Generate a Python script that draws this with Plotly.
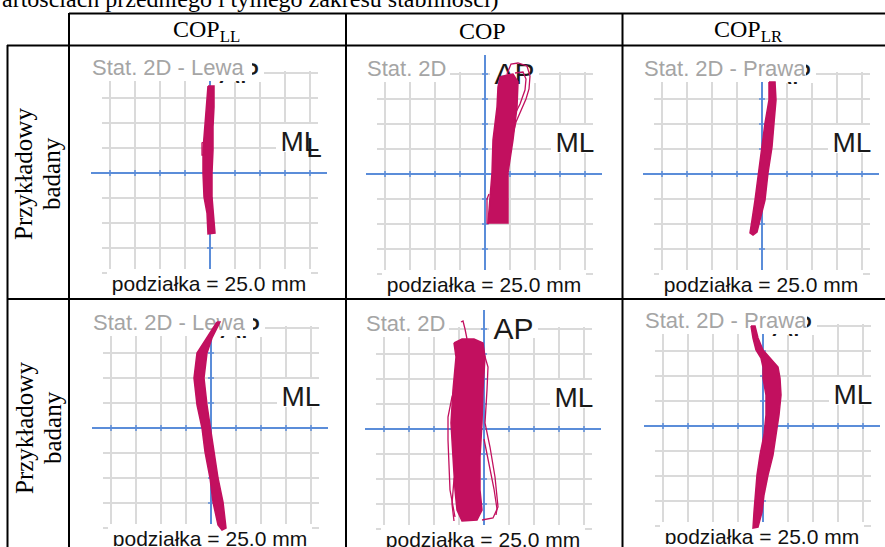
import plotly.graph_objects as go

W, H = 885, 547

# ---------------- text content ----------------
caption_text = "artościach przedniego i tylnego zakresu stabilności)"
col_headers = ["COP<sub>LL</sub>", "COP", "COP<sub>LR</sub>"]
row_label_top = "Przykładowy"
row_label_bottom = "badany"
panel_titles = ["Stat. 2D - Lewa", "Stat. 2D", "Stat. 2D - Prawa",
                "Stat. 2D - Lewa", "Stat. 2D", "Stat. 2D - Prawa"]
label_ap = "AP"
label_ml = "ML"
scale_text = "podziałka = 25.0 mm"

# grid division = 25 mm
grid_ticks = [-100, -75, -50, -25, 0, 25, 50, 75, 100]

# ---------------- digitised COP paths (mm) ----------------
# row 1, COP_LL
ll1_x = [-2, 4, 4, 3, 3, 2, 2, 3, 5, -2, -3, -6, -7, -7, -5, -4, -2]
ll1_y = [87, 87, 66, 46, 23, 0, -24, -40, -60, -61, -40, -24, 0, 23, 46, 66, 87]
ll1_loop_x = [-7, -5, -5, -8, -8, -6]
ll1_loop_y = [31, 31, 18, 18, 30, 31]

# row 1, COP
cop1_x = [3, 5, 7, 8, 12, 13, 15, 22, 28, 33, 32, 28, 23, 23, 23, 3]
cop1_y = [-49, -26, 1, 34, 67, 87, 97, 99, 100, 92, 67, 34, 1, -26, -49, -49]
cop1_loop_x = [22, 26, 33, 42, 45, 44, 41, 36, 31, 28]
cop1_loop_y = [100, 110, 111, 108, 98, 85, 75, 63, 52, 40]
cop1_loop2_x = [30, 38, 41, 40, 35, 30]
cop1_loop2_y = [101, 102, 95, 84, 70, 60]
cop1_tail_x = [4, 2, 2, 4]
cop1_tail_y = [-20, -25, -49, -50]

# row 1, COP_LR
lr1_x = [7, 7, 3, 0, -4, -7, -10, -12, -9, -5, -2, 3, 6, 10, 12, 14, 13, 7]
lr1_y = [92, 74, 51, 27, 1, -26, -46, -59, -61, -58, -46, -26, 1, 27, 51, 74, 92, 92]

# row 2, COP_LL
ll2_x = [6, -4, -14, -17, -14, -9, -6, -1, 2, 7, 11, 15, 12, 7, 3, -1, -4, -7, -4, 1, 9, 6]
ll2_y = [106, 90, 75, 50, 23, 0, -24, -50, -74, -97, -102, -100, -74, -50, -24, 0, 23, 50, 75, 90, 106, 106]

# row 2, COP
cop2_x = [-30, -22, -10, -1, 1, -1, -2, -4, -4, -2, -7, -22, -27, -29, -31, -33, -31, -28, -30]
cop2_y = [86, 90, 90, 86, 72, 39, 6, -28, -61, -81, -91, -92, -81, -61, -28, 6, 39, 72, 86]
cop2_right_x = [-1, 4, 3, 1, 6, 11, 14, 9, -2]
cop2_right_y = [79, 62, 39, 6, -18, -48, -78, -89, -91]
cop2_right2_x = [0, 5, 10, 13, 12]
cop2_right2_y = [-10, -35, -60, -80, -86]
cop2_left_x = [-29, -34, -36, -36, -32, -27]
cop2_left_y = [-88, -61, -11, 12, 32, 46]
cop2_left2_x = [-30, -32, -30, -26]
cop2_left2_y = [-92, -75, -50, -40]
cop2_spur_x = [-23, -21, -19, -17]
cop2_spur_y = [107, 108, 100, 90]

# row 2, COP_LR
lr2_x = [-12, -10, -7, -2, 0, 0, 3, 3, 1, -3, -6, -8, -9, -10, -5, -1, 1, 5, 10, 13, 16, 18, 17, 15, 7, 0, -5, -8, -12]
lr2_y = [100, 88, 76, 68, 59, 48, 31, 11, -9, -29, -49, -69, -86, -102, -101, -86, -69, -49, -29, -9, 11, 31, 48, 59, 68, 76, 88, 100, 100]

panel_fills = [
    [(ll1_x, ll1_y)],
    [(cop1_x, cop1_y)],
    [(lr1_x, lr1_y)],
    [(ll2_x, ll2_y)],
    [(cop2_x, cop2_y)],
    [(lr2_x, lr2_y)],
]
panel_lines = [
    [(ll1_loop_x, ll1_loop_y)],
    [(cop1_loop_x, cop1_loop_y), (cop1_loop2_x, cop1_loop2_y), (cop1_tail_x, cop1_tail_y)],
    [],
    [],
    [(cop2_right_x, cop2_right_y), (cop2_right2_x, cop2_right2_y),
     (cop2_left_x, cop2_left_y), (cop2_left2_x, cop2_left2_y), (cop2_spur_x, cop2_spur_y)],
    [],
]

# ---------------- styling / layout ----------------
MAG = "#c2105f"
BLUE = "#5b8dd9"
GRID = "#dadada"
TITLE_GRAY = "#a5a5a5"
SANS = "Liberation Sans, Arial, sans-serif"
SERIF = "Liberation Serif, Times New Roman, serif"

centers = [(210, 173), (485, 174), (762, 174), (211, 428), (484, 429), (763, 426)]
HW = 122
y_ranges = [(-124, 124)] * 3 + [(-118, 124)] * 3
title_right = [42, -35, 44, 42, -35, 44]

fig = go.Figure()
layout_axes = {}
shapes = []

for i, (cx, cy) in enumerate(centers):
    n = i + 1
    xa = "xaxis" if n == 1 else f"xaxis{n}"
    ya = "yaxis" if n == 1 else f"yaxis{n}"
    xr = "x" if n == 1 else f"x{n}"
    yr = "y" if n == 1 else f"y{n}"
    y0, y1 = y_ranges[i]
    layout_axes[xa] = dict(domain=[(cx - HW) / W, (cx + HW) / W], range=[-HW, HW],
                           visible=False, fixedrange=True, anchor=yr)
    layout_axes[ya] = dict(domain=[1 - (cy - y0) / H, 1 - (cy - y1) / H], range=[y0, y1],
                           visible=False, fixedrange=True, anchor=xr)

    def seg(xa0, ya0, xa1, ya1, color, width):
        shapes.append(dict(type="line", xref=xr, yref=yr, x0=xa0, y0=ya0, x1=xa1, y1=ya1,
                           line=dict(color=color, width=width), layer="below"))

    # grey grid
    for t in grid_ticks:
        seg(t, -102, t, 102, GRID, 2)
    for t in grid_ticks:
        seg(-108, t, 108, t, GRID, 2)
    # blue axes with tick marks
    seg(-119, 0, 117, 0, BLUE, 2)
    seg(0, -100, 0, 119, BLUE, 2)
    for t in grid_ticks:
        if t != 0:
            seg(t, -3, t, 3, BLUE, 1.5)
            seg(-3, t, 3, t, BLUE, 1.5)

    def box(bx0, by0, bx1, by1, text, font, pos="middle center", fill="white"):
        shapes.append(dict(type="rect", xref=xr, yref=yr, x0=bx0, y0=by0, x1=bx1, y1=by1,
                           fillcolor=fill, line=dict(width=0), layer="below",
                           label=dict(text=text, font=font, textposition=pos, padding=0)))

    # AP label (under the title box in the side panels)
    box(5, 91, 54, 117, label_ap, dict(family=SANS, size=30, color="#1a1a1a"))
    # title box
    box(-121, 92, title_right[i], 124, panel_titles[i],
        dict(family=SANS, size=22, color=TITLE_GRAY), pos="middle left")
    # ML label
    box(66, 21, 114, 49, label_ml, dict(family=SANS, size=28, color="#1a1a1a"))
    if i == 0:
        box(88, 14, 120, 44, "L", dict(family=SANS, size=28, color="#1a1a1a"), fill="rgba(0,0,0,0)")
    # scale caption
    box(-103, -120, 101, -96, scale_text, dict(family=SANS, size=21, color="#111111"))

    for (px, py) in panel_fills[i]:
        fig.add_trace(go.Scatter(x=px, y=py, mode="lines", fill="toself", fillcolor=MAG,
                                 line=dict(color=MAG, width=1.5), xaxis=xr, yaxis=yr,
                                 hoverinfo="skip", showlegend=False))
    for (px, py) in panel_lines[i]:
        fig.add_trace(go.Scatter(x=px, y=py, mode="lines",
                                 line=dict(color=MAG, width=1.3), xaxis=xr, yaxis=yr,
                                 hoverinfo="skip", showlegend=False))

# table rules (page pixels -> paper)
table_lines = [(69, 13.5, 885, 13.5), (7, 45.5, 885, 45.5), (7, 299, 885, 299),
               (7.5, 45, 7.5, 547), (69, 13, 69, 547), (346, 13, 346, 547), (622.5, 13, 622.5, 547)]
for (a, b, c, d) in table_lines:
    shapes.append(dict(type="line", xref="paper", yref="paper", x0=a / W, y0=1 - b / H,
                       x1=c / W, y1=1 - d / H, line=dict(color="black", width=2), layer="above"))

annotations = []


def pann(x, y, text, size, **kw):
    d = dict(xref="paper", yref="paper", x=x / W, y=1 - y / H, text=text, showarrow=False,
             font=dict(family=SERIF, size=size, color="black"), xanchor="center", yanchor="middle")
    d.update(kw)
    annotations.append(d)


pann(0, -1, caption_text, 24, xanchor="left")
for hx, ht in zip([206, 483, 748], col_headers):
    pann(hx, 31.5, ht, 24)
for ry in [174, 428]:
    pann(24, ry, row_label_top, 25, textangle=-90)
    pann(52, ry, row_label_bottom, 25, textangle=-90)

fig.update_layout(width=W, height=H, margin=dict(l=0, r=0, t=0, b=0, pad=0),
                  paper_bgcolor="white", plot_bgcolor="rgba(0,0,0,0)",
                  shapes=shapes, annotations=annotations, showlegend=False, **layout_axes)

fig.write_html("out.html", config={"displayModeBar": False, "staticPlot": True},
               post_script="document.body.style.margin='0px';document.body.style.overflow='hidden';")
